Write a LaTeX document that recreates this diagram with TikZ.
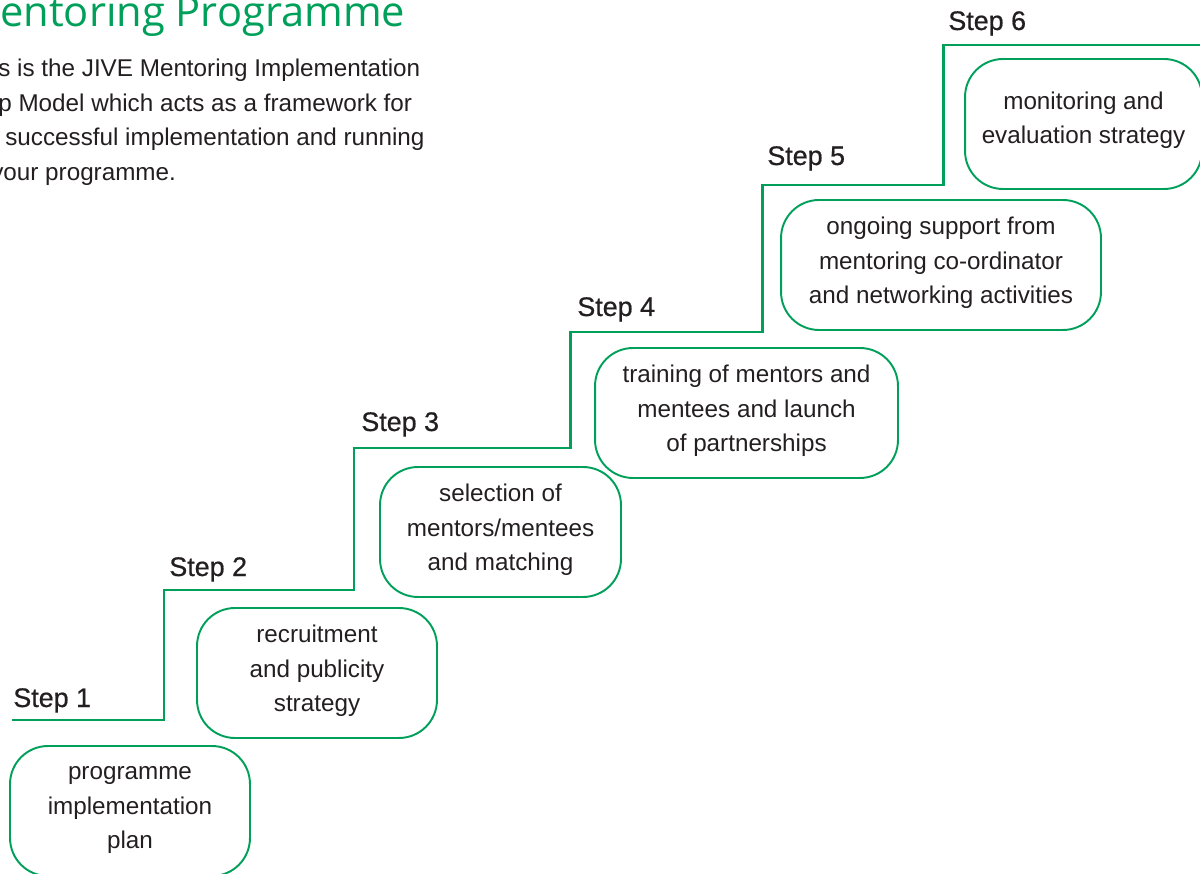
\documentclass[tikz,border=0pt]{standalone}
\usepackage{fontspec}
\setmainfont{Liberation Sans}
\newfontfamily\titlefont{Open Sans}
\newfontface\stepfont{Liberation Sans}[FakeBold=0.6]
\definecolor{jivegreen}{RGB}{0,160,90}
\definecolor{inkgray}{RGB}{35,31,32}
\tikzset{
  stagebox/.style={draw=jivegreen, line width=1.1pt, rounded corners=0.76cm,
    inner sep=0pt, minimum height=2.6cm},
  stagetext/.style={align=center, inner sep=0pt, text=inkgray, yshift=1.1pt,
    font=\fontsize{13.8}{19.6}\selectfont},
  steplabel/.style={anchor=base west, inner sep=0pt, text=inkgray,
    font=\stepfont\fontsize{15.3}{18}\selectfont},
  introline/.style={anchor=base west, inner sep=0pt, text=inkgray,
    font=\fontsize{13.8}{19.4}\selectfont}
}

\begin{document}
\begin{tikzpicture}[x=0.02cm,y=-0.02cm,line cap=butt,line join=miter]
  \useasboundingbox (0,0) rectangle (1200,874);
  \clip (0,0) rectangle (1200,874);
  % title and introduction
  \node[anchor=base west, inner sep=0pt, text=jivegreen,
    font=\titlefont\fontsize{23.7}{27}\selectfont] (title) at (0,27) {entoring Programme};
  \node[introline] (intro1) at (-2,77) {s is the JIVE Mentoring Implementation};
  \node[introline] (intro2) at (-2,111.5) {p Model which acts as a framework for};
  \node[introline] (intro3) at (5,146) {successful implementation and running};
  \node[introline] (intro4) at (-9,180.5) {your programme.};
  % staircase
  \draw[jivegreen, line width=1.7pt] (12,720) -- (164,720) -- (164,590) -- (354,590)
    -- (354,448) -- (570,448) -- (570,332) -- (762,332) -- (762,185) -- (943,185)
    -- (943,45) -- (1210,45);
  % step labels
  \node[steplabel] (step1) at (13,707) {Step 1};
  \node[steplabel] (step2) at (169,576) {Step 2};
  \node[steplabel] (step3) at (361,431) {Step 3};
  \node[steplabel] (step4) at (577,316) {Step 4};
  \node[steplabel] (step5) at (767,165) {Step 5};
  \node[steplabel] (step6) at (948,30) {Step 6};
  % stage boxes
  \node[stagebox, minimum width=4.8cm] (plan) at (130,811) {};
  \node[stagebox, minimum width=4.8cm] (recruit) at (317,673) {};
  \node[stagebox, minimum width=4.82cm] (match) at (500.5,532) {};
  \node[stagebox, minimum width=6.06cm] (train) at (746.5,413) {};
  \node[stagebox, minimum width=6.4cm] (support) at (941,265) {};
  \node[stagebox, minimum width=4.74cm] (monitor) at (1083.5,124) {};
  % stage texts
  \node[stagetext, yshift=-0.6pt] (plan-t) at (plan.center) {programme\\implementation\\plan};
  \node[stagetext] (recruit-t) at (recruit.center) {recruitment\\and publicity\\strategy};
  \node[stagetext] (match-t) at (match.center) {selection of\\mentors/mentees\\and matching};
  \node[stagetext] (train-t) at (train.center) {training of mentors and\\mentees and launch\\of partnerships};
  \node[stagetext] (support-t) at (support.center) {ongoing support from\\mentoring co-ordinator\\and networking activities};
  \node[stagetext, yshift=1.1pt] (monitor-t) at (monitor.center) {monitoring and\\evaluation strategy};
\end{tikzpicture}
\end{document}
